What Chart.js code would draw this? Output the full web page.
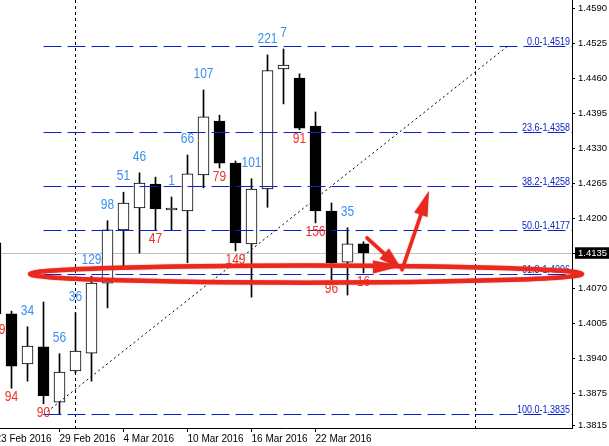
<!DOCTYPE html>
<html><head><meta charset="utf-8">
<script src="https://cdn.jsdelivr.net/npm/chart.js@4.4.1/dist/chart.umd.min.js"></script>
<style>html,body{margin:0;padding:0;background:#fff;overflow:hidden}canvas{display:block}</style>
</head><body>
<canvas id="c" width="609" height="446"></canvas>
<script>
// ---- data ----
const dates = ['23 Feb 2016','24 Feb 2016','25 Feb 2016','26 Feb 2016','29 Feb 2016','1 Mar 2016','2 Mar 2016','3 Mar 2016','4 Mar 2016','7 Mar 2016','8 Mar 2016','9 Mar 2016','10 Mar 2016','11 Mar 2016','14 Mar 2016','15 Mar 2016','16 Mar 2016','17 Mar 2016','18 Mar 2016','21 Mar 2016','22 Mar 2016','23 Mar 2016','24 Mar 2016','25 Mar 2016'];
const opens  = [1.4154,1.4022,1.3929,1.3961,1.3858,1.3916,1.3949,1.4079,1.4178,1.4219,1.4263,1.4215,1.4213,1.4280,1.4380,1.4302,1.4152,1.4254,1.4477,1.4460,1.4371,1.4213,1.4118,1.4152];
const highs  = [1.4167,1.4027,1.3998,1.4044,1.3948,1.4024,1.4092,1.4195,1.4248,1.4284,1.4276,1.4239,1.4317,1.4438,1.4391,1.4306,1.4273,1.4503,1.4514,1.4468,1.4397,1.4228,1.4182,1.4156];
const lows   = [1.4009,1.3884,1.3897,1.3855,1.3836,1.3912,1.3897,1.4033,1.4109,1.4135,1.4178,1.4178,1.4117,1.4256,1.4293,1.4139,1.4053,1.4220,1.4412,1.4364,1.4191,1.4085,1.4057,1.4098];
const closes = [1.4022,1.3925,1.3962,1.3870,1.3914,1.3953,1.4079,1.4178,1.4228,1.4265,1.4217,1.4215,1.4282,1.4388,1.4302,1.4154,1.4254,1.4474,1.4484,1.4367,1.4213,1.4117,1.4152,1.4135];
const notes  = ['139','94','34','90','56','36','129','98','51','46','47','1','66','107','79','149','101','221','7','91','156','96','35','16'];

const dateTickIdx = [0,4,8,12,16,20];
const yTickValues = [1.4590,1.4525,1.4460,1.4395,1.4330,1.4265,1.4200,1.4135,1.4070,1.4005,1.3940,1.3875,1.3815];
const lastPrice = 1.4135;

const fibLevels = [0.0,23.6,38.2,50.0,61.8,100.0];
const fibPrices = [1.4519,1.4358,1.4258,1.4177,1.4096,1.3835];
const fibStartIdx = 3;
const fibEndIdx = 32;
const separatorIdx = [5,30];

// annotation shapes (data coordinates: bar index, price)
const ellipseCenter = [19.41, 1.4096];
const ellipseRadius = [17.25, 0.00160];
const arrowDown = [[23.22, 1.4163],[25.41, 1.4104]];
const arrowUp   = [[25.41, 1.4104],[27.09, 1.4250]];
const wedge     = [[23.59, 1.4121],[23.59, 1.4097],[25.41, 1.4111]];

// ---- style ----
const FONT = '"Liberation Sans", Arial, sans-serif';
const FIB_COLOR = '#0a22c8';
const BLUE = '#3a8ff0';
const RED = '#ea3329';
const ARROW_RED = '#e8291f';
const xMin = 0.28125, xMax = 0.28125 + 35.75;
const yMin = 1.3810, yMax = 1.4605;

const idx = dates.map((d,i)=>i);
const bodies = idx.map(i => ({x:i, y:[opens[i], closes[i]]}));
const wicks  = idx.map(i => ({x:i, y:[lows[i], highs[i]]}));
const bodyFill = idx.map(i => closes[i] >= opens[i] ? '#ffffff' : '#000000');

function squeezedText(ctx, txt, x, y, sx){
  ctx.save(); ctx.translate(x, y); ctx.scale(sx, 1); ctx.fillText(txt, 0, 0); ctx.restore();
}

const overlay = {
  id:'overlay',
  beforeDatasetsDraw(chart){
    const ctx = chart.ctx, a = chart.chartArea, xs = chart.scales.x, ys = chart.scales.y;
    ctx.save();
    ctx.strokeStyle = '#000'; ctx.lineWidth = 1; ctx.setLineDash([3,3]);
    separatorIdx.forEach(i => {
      const x = Math.floor(xs.getPixelForValue(i)) + 0.5;
      ctx.beginPath(); ctx.moveTo(x, a.top); ctx.lineTo(x, a.bottom); ctx.stroke();
    });
    ctx.setLineDash([]); ctx.strokeStyle = '#c0c0c0';
    const yp = Math.floor(ys.getPixelForValue(lastPrice)) + 0.5;
    ctx.beginPath(); ctx.moveTo(a.left, yp); ctx.lineTo(a.right, yp); ctx.stroke();
    ctx.restore();
  },
  afterDatasetsDraw(chart){
    const ctx = chart.ctx, a = chart.chartArea, xs = chart.scales.x, ys = chart.scales.y;
    ctx.save();
    // fib levels
    const x0 = xs.getPixelForValue(fibStartIdx);
    ctx.strokeStyle = FIB_COLOR; ctx.lineWidth = 1; ctx.setLineDash([18,6]);
    fibPrices.forEach(p => {
      const y = Math.floor(ys.getPixelForValue(p)) + 0.5;
      ctx.beginPath(); ctx.moveTo(x0, y); ctx.lineTo(a.right, y); ctx.stroke();
    });
    // fib trend line
    ctx.strokeStyle = '#000'; ctx.setLineDash([2,3]);
    ctx.beginPath();
    ctx.moveTo(x0, ys.getPixelForValue(fibPrices[fibPrices.length-1]));
    ctx.lineTo(xs.getPixelForValue(fibEndIdx), ys.getPixelForValue(fibPrices[0]));
    ctx.stroke();
    ctx.setLineDash([]);
    // fib labels
    ctx.fillStyle = FIB_COLOR; ctx.font = '10px ' + FONT; ctx.textAlign = 'right'; ctx.textBaseline = 'alphabetic';
    fibPrices.forEach((p,k) => {
      const y = Math.floor(ys.getPixelForValue(p));
      squeezedText(ctx, fibLevels[k].toFixed(1) + '-' + p.toFixed(4), a.right - 2, y - 1, 0.9);
    });
    // candle notes
    ctx.font = '15px ' + FONT; ctx.textAlign = 'center'; ctx.textBaseline = 'middle';
    idx.forEach(i => {
      const x = xs.getPixelForValue(i);
      if (closes[i] >= opens[i]) {
        ctx.fillStyle = BLUE; squeezedText(ctx, notes[i], x, ys.getPixelForValue(highs[i]) - 16, 0.8);
      } else {
        ctx.fillStyle = RED; squeezedText(ctx, notes[i], x, ys.getPixelForValue(lows[i]) + 9, 0.8);
      }
    });
    ctx.restore();
  },
  afterDraw(chart){
    const ctx = chart.ctx, xs = chart.scales.x, ys = chart.scales.y;
    const P = (pt) => [xs.getPixelForValue(pt[0]), ys.getPixelForValue(pt[1])];
    ctx.save();
    ctx.strokeStyle = ARROW_RED; ctx.fillStyle = ARROW_RED;
    ctx.shadowColor = 'rgba(232,41,31,0.6)'; ctx.shadowBlur = 1.5;
    // ellipse
    const [cx, cy] = P(ellipseCenter);
    const rx = xs.getPixelForValue(ellipseCenter[0] + ellipseRadius[0]) - cx;
    const ry = ys.getPixelForValue(ellipseCenter[1] - ellipseRadius[1]) - cy;
    ctx.lineWidth = 4.5;
    ctx.beginPath(); ctx.ellipse(cx, cy, rx, ry, 0, 0, Math.PI*2); ctx.stroke();
    // arrows
    function arrow(p1, p2, len, hw){
      const [x1,y1] = P(p1), [x2,y2] = P(p2);
      const ang = Math.atan2(y2-y1, x2-x1);
      const bx = x2 - len*Math.cos(ang), by = y2 - len*Math.sin(ang);
      ctx.lineWidth = 3.5; ctx.lineCap = 'round';
      ctx.beginPath(); ctx.moveTo(x1,y1); ctx.lineTo(bx,by); ctx.stroke();
      ctx.beginPath(); ctx.moveTo(x2,y2);
      ctx.lineTo(bx + hw*Math.sin(ang), by - hw*Math.cos(ang));
      ctx.lineTo(bx - hw*Math.sin(ang), by + hw*Math.cos(ang));
      ctx.closePath(); ctx.fill();
    }
    arrow(arrowDown[0], arrowDown[1], 24, 7);
    arrow(arrowUp[0], arrowUp[1], 25, 7);
    ctx.beginPath();
    wedge.forEach((pt,k) => { const [x,y] = P(pt); k ? ctx.lineTo(x,y) : ctx.moveTo(x,y); });
    ctx.closePath(); ctx.fill();
    ctx.restore();
  }
};

function noPad(s){ s.paddingTop = 0; s.paddingBottom = 0; s.paddingLeft = 0; s.paddingRight = 0; }

new Chart(document.getElementById('c'), {
  type:'bar',
  data:{ datasets:[
    { label:'body', data:bodies, backgroundColor:bodyFill, borderColor:'#000', borderWidth:1, borderSkipped:false,
      barThickness:11, maxBarThickness:11, minBarLength:2, grouped:false },
    { label:'wick', data:wicks, backgroundColor:'#000', borderWidth:0, barThickness:1, maxBarThickness:1, grouped:false }
  ]},
  options:{
    responsive:false, animation:false, devicePixelRatio:1,
    layout:{padding:0, autoPadding:false},
    plugins:{legend:{display:false}, tooltip:{enabled:false}},
    scales:{
      x:{ type:'linear', position:'bottom', min:xMin, max:xMax, offset:false, bounds:'data',
        grid:{display:true, offset:false, drawOnChartArea:false, drawTicks:true, tickLength:4, color:'#000', lineWidth:1},
        border:{display:true, color:'#000', width:1},
        ticks:{autoSkip:false, maxRotation:0, minRotation:0, align:'start', padding:2, color:'#000',
          font:{family:FONT, size:10, lineHeight:1}, callback:(v)=>dates[v] || ''},
        afterBuildTicks:(s)=>{ s.ticks = dateTickIdx.map(v=>({value:v})); },
        afterFit:(s)=>{ s.height = 18; noPad(s); }
      },
      y:{ type:'linear', position:'right', min:yMin, max:yMax, bounds:'data',
        grid:{display:true, drawOnChartArea:false, drawTicks:true, tickLength:3, color:'#000', lineWidth:1},
        border:{display:true, color:'#000', width:1},
        ticks:{ padding:3, autoSkip:false, font:{family:FONT, size:9.5, lineHeight:1},
          color:(c)=> (c.tick && Math.abs(c.tick.value-lastPrice)<1e-9) ? '#fff' : '#000',
          showLabelBackdrop:(c)=> !!(c.tick && Math.abs(c.tick.value-lastPrice)<1e-9),
          backdropColor:'#000', backdropPadding:{top:1,bottom:1,left:3,right:2},
          callback:(v)=>Number(v).toFixed(4) },
        afterBuildTicks:(s)=>{ s.ticks = yTickValues.map(v=>({value:v})); },
        afterFit:(s)=>{ s.width = 37; noPad(s); }
      }
    }
  },
  plugins:[overlay]
});
</script>
</body></html>
